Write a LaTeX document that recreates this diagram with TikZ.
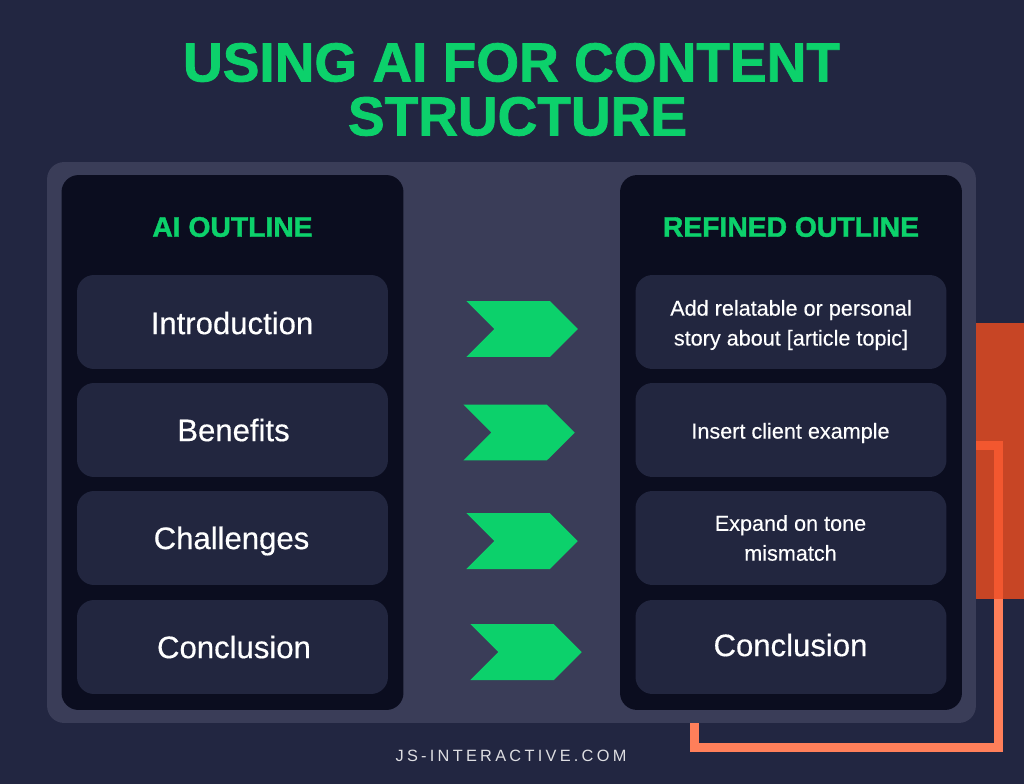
\documentclass[tikz,border=0pt]{standalone}
\usepackage{fontspec}
\setmainfont[BoldFeatures={FakeBold=1.4}]{Liberation Sans}
\usetikzlibrary{shapes.symbols}
\definecolor{bgnavy}{HTML}{222641}
\definecolor{panelgrey}{HTML}{3A3D58}
\definecolor{darkcol}{HTML}{0B0D1F}
\definecolor{rowbox}{HTML}{22263F}
\definecolor{accent}{HTML}{0CD16B}
\definecolor{rust}{HTML}{C74525}
\definecolor{coral}{HTML}{FF7F5A}
\definecolor{overlap}{HTML}{F2572F}
\tikzset{
  outerpanel/.style={fill=panelgrey,rounded corners=0.34cm,minimum width=18.58cm,minimum height=11.22cm,inner sep=0pt},
  column/.style={fill=darkcol,rounded corners=0.34cm,minimum width=6.84cm,minimum height=10.7cm,inner sep=0pt},
  rowitem/.style={fill=rowbox,rounded corners=0.34cm,minimum width=6.22cm,minimum height=1.88cm,inner sep=0pt},
  bigtext/.style={text=white,font=\addfontfeature{FakeBold=0.4}\fontsize{17.7}{20}\selectfont},
  smalltext/.style={text=white,align=center,font=\addfontfeature{FakeBold=0.2}\fontsize{12.3}{17}\selectfont},
  heading/.style={text=accent,font=\bfseries\fontsize{16.1}{18}\selectfont},
  chevron/.style={fill=accent,signal,signal to=east,signal from=west,signal pointer angle=90,minimum width=2.23cm,minimum height=1.12cm,inner sep=0pt,outer sep=0pt}
}
\begin{document}
\begin{tikzpicture}[x=0.02cm,y=-0.02cm]
  \fill[bgnavy] (0,0) rectangle (1024,784);
  \useasboundingbox (0,0) rectangle (1024,784);

  % Decoration behind the panel
  \fill[rust] (976,323) rectangle (1024,599);
  \draw[coral,line width=0.18cm] (694.5,723) -- (694.5,747.5) -- (998.5,747.5) -- (998.5,599);
  \draw[overlap,line width=0.18cm] (998.5,599) -- (998.5,445.5) -- (976,445.5);

  % Title
  \node[text=accent,align=center,font=\bfseries\fontsize{31.3}{30.7}\selectfont] (title) at (511.5,89.5) {USING AI FOR CONTENT\\\hspace{0.24cm}STRUCTURE};

  % Panels
  \node[outerpanel] (panel) at (511.5,442.5) {};
  \node[column] (leftcol) at (232.5,442.5) {};
  \node[column] (rightcol) at (791,442.5) {};
  \node[heading] (lefthead) at (232.5,227) {AI OUTLINE};
  \node[heading] (righthead) at (791,227) {REFINED OUTLINE};

  % Left column
  \node[rowitem] (introbox) at (232.5,322) {};
  \node[rowitem] (benefitsbox) at (232.5,430) {};
  \node[rowitem] (challengesbox) at (232.5,538) {};
  \node[rowitem] (conclusionbox) at (232.5,647) {};
  \node[bigtext] (intro) at (232,323) {Introduction};
  \node[bigtext] (benefits) at (233.5,430) {Benefits};
  \node[bigtext] (challenges) at (231.5,541) {Challenges};
  \node[bigtext] (conclusion) at (234,647) {Conclusion};

  % Right column
  \node[rowitem] (storybox) at (791,322) {};
  \node[rowitem] (clientbox) at (791,430) {};
  \node[rowitem] (tonebox) at (791,538) {};
  \node[rowitem] (refconclbox) at (791,647) {};
  \node[smalltext] (story) at (791,325) {Add relatable or personal\\story about [article topic]};
  \node[smalltext] (client) at (790.5,433) {Insert client example};
  \node[smalltext] (tone) at (790.5,538) {Expand on tone\\mismatch};
  \node[bigtext] (refconcl) at (790.5,645) {Conclusion};

  % Arrows
  \node[chevron] (arrowa) at (522.2,329) {};
  \node[chevron] (arrowb) at (519,432.5) {};
  \node[chevron] (arrowc) at (522,541) {};
  \node[chevron] (arrowd) at (526,652) {};

  % Footer
  \node[text=white!85!bgnavy,font=\addfontfeature{LetterSpace=20}\fontsize{9.3}{12}\selectfont] (footer) at (511,756) {JS-INTERACTIVE.COM};
\end{tikzpicture}
\end{document}
